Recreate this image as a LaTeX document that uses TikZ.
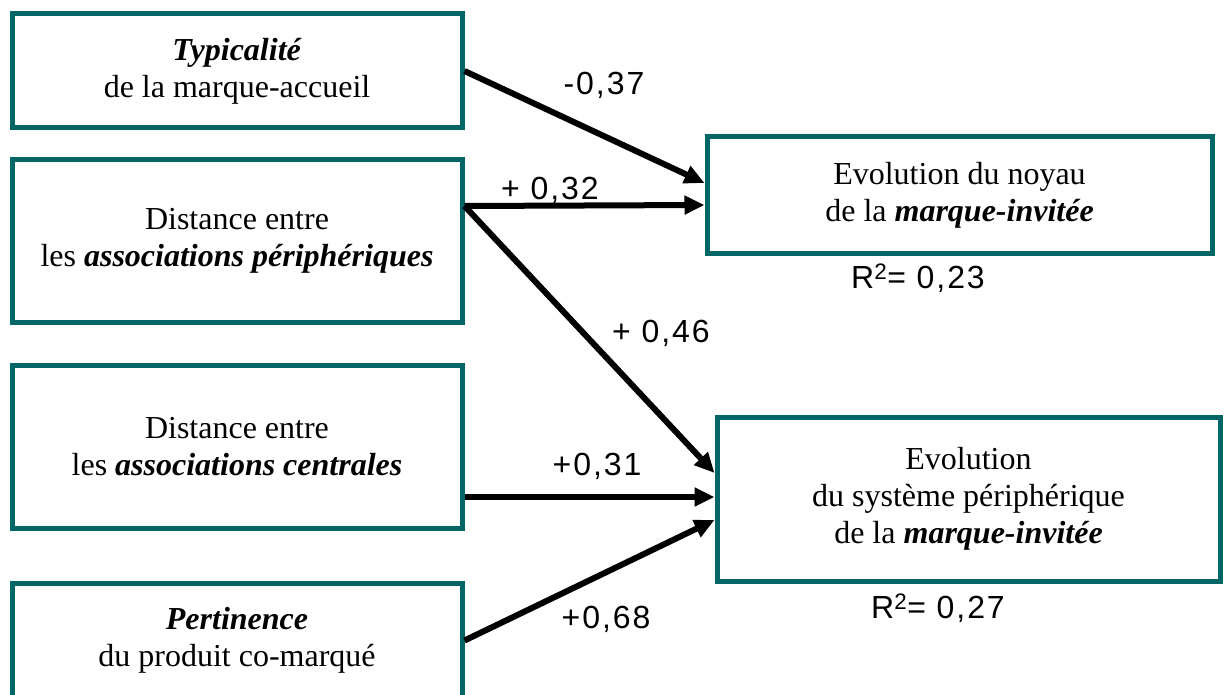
\documentclass[tikz,border=0pt]{standalone}
\usepackage{fontspec}
\setmainfont{Liberation Serif}
\newfontfamily\coeffont[LetterSpace=6]{Liberation Sans}
\usetikzlibrary{arrows.meta}
\definecolor{bordure}{RGB}{0,102,102}
\tikzset{%
   facteur/.style={
    draw=bordure,
    line width=5pt,
    fill=white,
    align=center,
    font=\fontsize{32}{37}\selectfont
  },
  coef/.style={font=\coeffont\fontsize{32}{34}\selectfont},
  lien/.style={->, line width=6pt},
}

\begin{document}
\begin{tikzpicture}[x=1pt, y=-1pt, >={Triangle[length=20pt,width=18pt]}]

\useasboundingbox (0,0) rectangle (1226,695);

% causes
\node [facteur, minimum width=450pt, minimum height=114pt] (typ) at (237,71)
  {\textbf{\textit{Typicalité}}\\de la marque-accueil};
\node [facteur, minimum width=450pt, minimum height=162pt] (peri) at (237,241)
  {Distance entre\\les \textbf{\textit{associations périphériques}}};
\node [facteur, minimum width=450pt, minimum height=163pt] (cent) at (237,446.5)
  {Distance entre\\les \textbf{\textit{associations centrales}}};
\node [facteur, minimum width=450pt, minimum height=114pt] (pert) at (237,640.5)
  {\textbf{\textit{Pertinence}}\\du produit co-marqué};

% effets
\node [facteur, minimum width=505pt, minimum height=116pt] (noyau) at (959.5,195)
  {Evolution du noyau\\de la \textbf{\textit{marque-invitée}}};
\node [facteur, minimum width=503pt, minimum height=164pt] (syst) at (968.5,499)
  {Evolution\\du système périphérique\\de la \textbf{\textit{marque-invitée}}};

%%%%%%%%%%%%%%%%%%%%%%%%%%%%%%%%%%%%%%%%%%%%%%%%%%%%%%%%%%%%%%%%%%%%%%%%%%%%%
% connections

\draw [lien] (typ.east) -- ([yshift=12pt]noyau.west);
\draw [lien] ([yshift=35pt]peri.east) -- ([yshift=-10pt]noyau.west);
\draw [lien] ([yshift=35pt]peri.east) -- ([yshift=26pt]syst.west);
\draw [lien] ([yshift=-50.5pt]cent.east) -- ([yshift=2pt]syst.west);
\draw [lien] (pert.east) -- ([yshift=-21pt]syst.west);

%%%%%%%%%%%%%%%%%%%%%%%%%%%%%%%%%%%%%%%%%%%%%%%%%%%%%%%%%%%%%%%%%%%%%%%%%%%%%
% labels

\node [coef] (c1) at (604,85) {-0,37};
\node [coef] (c2) at (550,190) {+ 0,32};
\node [coef] (c3) at (661,333) {+ 0,46};
\node [coef] (c4) at (597,466) {+0,31};
\node [coef] (c5) at (606,619) {+0,68};

\node [coef] (r1) at (918,278) {R\textsuperscript{2}= 0,23};
\node [coef] (r2) at (938,608) {R\textsuperscript{2}= 0,27};

\end{tikzpicture}
\end{document}
